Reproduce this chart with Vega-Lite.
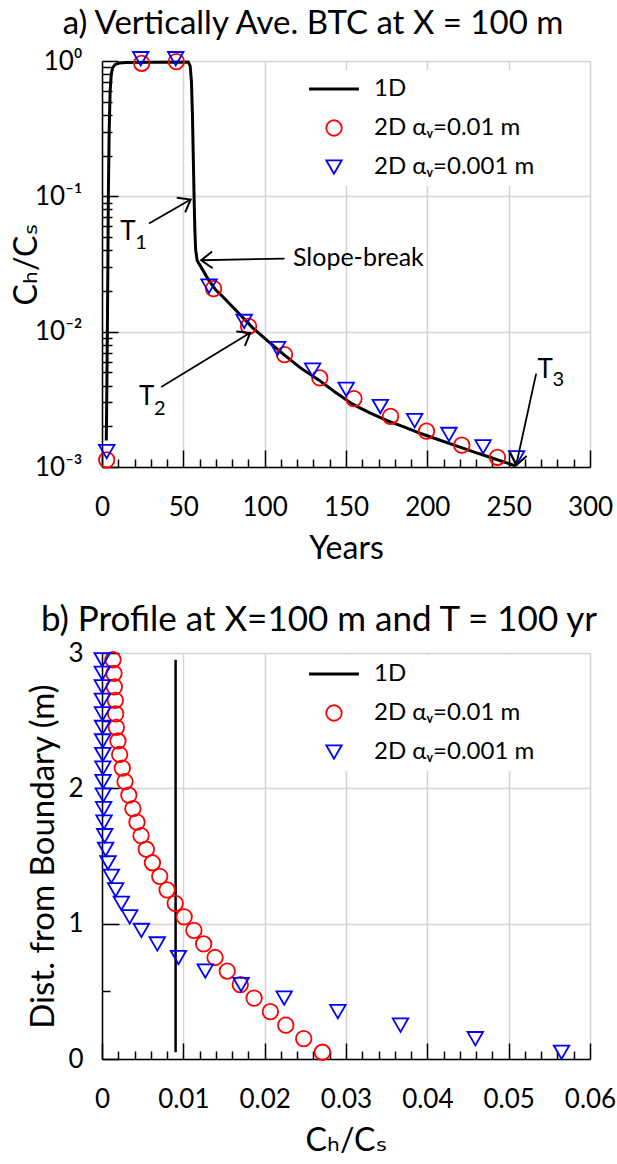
{
  "$schema": "https://vega.github.io/schema/vega-lite/v6.json",
  "background": "white",
  "padding": {"left": 10, "top": 8, "right": 0, "bottom": 0},
  "spacing": 39,
  "config": {
    "font": "Lato, DejaVu Sans, sans-serif",
    "view": {"stroke": null},
    "axis": {
      "labelFont": "Lato, DejaVu Sans, sans-serif", "labelFontSize": 26, "labelColor": "black",
      "titleFont": "Lato, DejaVu Sans, sans-serif", "titleFontSize": 32, "titleFontWeight": "normal", "titleColor": "black",
      "domainColor": "black", "domainWidth": 1.5, "tickColor": "black", "tickWidth": 1.5,
      "gridColor": "#d4d4d4", "gridWidth": 1.5, "labelOverlap": false, "labelFlush": false
    },
    "axisX": {"titlePadding": 13},
    "axisY": {"titleAngle": -90, "titleBaseline": "alphabetic", "titleAlign": "center"},
    "title": {"font": "Lato, DejaVu Sans, sans-serif", "fontSize": 33, "fontWeight": "normal", "color": "black", "anchor": "middle"},
    "legend": {
      "orient": "none", "legendX": 197, "legendY": 7, "fillColor": "white", "padding": 7,
      "labelFont": "Lato, DejaVu Sans, sans-serif", "labelFontSize": 24, "labelColor": "black", "labelLimit": 400,
      "symbolSize": 240, "rowPadding": 15, "symbolOffset": 16, "labelOffset": 28, "symbolStrokeWidth": 1.8
    }
  },
  "datasets": {
    "top1d": [
      {"s": "1D", "yr": 2.65, "c": 0.00157}, {"s": "1D", "yr": 3.0, "c": 0.004}, {"s": "1D", "yr": 3.3, "c": 0.01},
      {"s": "1D", "yr": 3.6, "c": 0.03}, {"s": "1D", "yr": 3.9, "c": 0.1}, {"s": "1D", "yr": 4.4, "c": 0.3},
      {"s": "1D", "yr": 5.0, "c": 0.6}, {"s": "1D", "yr": 5.7, "c": 0.8}, {"s": "1D", "yr": 6.5, "c": 0.89},
      {"s": "1D", "yr": 8, "c": 0.94}, {"s": "1D", "yr": 10.5, "c": 0.965}, {"s": "1D", "yr": 15, "c": 0.975},
      {"s": "1D", "yr": 30, "c": 0.98}, {"s": "1D", "yr": 53, "c": 0.985}, {"s": "1D", "yr": 54.2, "c": 0.92},
      {"s": "1D", "yr": 55, "c": 0.7}, {"s": "1D", "yr": 55.6, "c": 0.4}, {"s": "1D", "yr": 56.1, "c": 0.2},
      {"s": "1D", "yr": 56.6, "c": 0.1}, {"s": "1D", "yr": 57.1, "c": 0.055}, {"s": "1D", "yr": 57.6, "c": 0.04},
      {"s": "1D", "yr": 58.5, "c": 0.0335}, {"s": "1D", "yr": 62, "c": 0.0285}, {"s": "1D", "yr": 66, "c": 0.0236},
      {"s": "1D", "yr": 70, "c": 0.0203}, {"s": "1D", "yr": 74.3, "c": 0.0181}, {"s": "1D", "yr": 82, "c": 0.0145},
      {"s": "1D", "yr": 92.2, "c": 0.0108}, {"s": "1D", "yr": 102, "c": 0.0085}, {"s": "1D", "yr": 112.2, "c": 0.0067},
      {"s": "1D", "yr": 122, "c": 0.0054}, {"s": "1D", "yr": 133.2, "c": 0.0044}, {"s": "1D", "yr": 143, "c": 0.0036},
      {"s": "1D", "yr": 154.3, "c": 0.0029}, {"s": "1D", "yr": 165, "c": 0.0025}, {"s": "1D", "yr": 175.3, "c": 0.0022},
      {"s": "1D", "yr": 186, "c": 0.00197}, {"s": "1D", "yr": 196.4, "c": 0.00176}, {"s": "1D", "yr": 207, "c": 0.00159},
      {"s": "1D", "yr": 217.4, "c": 0.00144}, {"s": "1D", "yr": 228, "c": 0.0013}, {"s": "1D", "yr": 238.5, "c": 0.00118},
      {"s": "1D", "yr": 246, "c": 0.0011}, {"s": "1D", "yr": 254.3, "c": 0.00102}
    ],
    "top2d": [
      {"s": "2D αᵥ=0.01 m", "yr": 2.9, "c": 0.00113}, {"s": "2D αᵥ=0.01 m", "yr": 24.4, "c": 0.962},
      {"s": "2D αᵥ=0.01 m", "yr": 45.7, "c": 0.99}, {"s": "2D αᵥ=0.01 m", "yr": 68.6, "c": 0.0208},
      {"s": "2D αᵥ=0.01 m", "yr": 90.1, "c": 0.01096}, {"s": "2D αᵥ=0.01 m", "yr": 112.2, "c": 0.00677},
      {"s": "2D αᵥ=0.01 m", "yr": 133.9, "c": 0.00455}, {"s": "2D αᵥ=0.01 m", "yr": 154.9, "c": 0.0032},
      {"s": "2D αᵥ=0.01 m", "yr": 177.4, "c": 0.00237}, {"s": "2D αᵥ=0.01 m", "yr": 199.5, "c": 0.00184},
      {"s": "2D αᵥ=0.01 m", "yr": 221.2, "c": 0.00145}, {"s": "2D αᵥ=0.01 m", "yr": 243.1, "c": 0.00118},
      {"s": "2D αᵥ=0.001 m", "yr": 2.9, "c": 0.0013}, {"s": "2D αᵥ=0.001 m", "yr": 23.8, "c": 1.04},
      {"s": "2D αᵥ=0.001 m", "yr": 45.3, "c": 1.04}, {"s": "2D αᵥ=0.001 m", "yr": 65.8, "c": 0.0217},
      {"s": "2D αᵥ=0.001 m", "yr": 87.4, "c": 0.0119}, {"s": "2D αᵥ=0.001 m", "yr": 107.9, "c": 0.0075},
      {"s": "2D αᵥ=0.001 m", "yr": 129.5, "c": 0.0052}, {"s": "2D αᵥ=0.001 m", "yr": 150.1, "c": 0.00375},
      {"s": "2D αᵥ=0.001 m", "yr": 171.1, "c": 0.0028}, {"s": "2D αᵥ=0.001 m", "yr": 192.2, "c": 0.0022},
      {"s": "2D αᵥ=0.001 m", "yr": 213.3, "c": 0.00174}, {"s": "2D αᵥ=0.001 m", "yr": 234.3, "c": 0.00141},
      {"s": "2D αᵥ=0.001 m", "yr": 254.9, "c": 0.00117}
    ],
    "arrows": [
      {"id": "T1", "yr": 28.9, "c": 0.063, "yr2": 54.5, "c2": 0.0948},
      {"id": "SB", "yr": 112.2, "c": 0.0347, "yr2": 61, "c2": 0.0337},
      {"id": "T2", "yr": 36.4, "c": 0.0039, "yr2": 91.1, "c2": 0.0098},
      {"id": "T3", "yr": 266.9, "c": 0.0049, "yr2": 254.6, "c2": 0.00103}
    ],
    "heads": [
      {"id": "T1", "yr": 54.5, "c": 0.0948},
      {"id": "SB", "yr": 61, "c": 0.0337},
      {"id": "T2", "yr": 91.1, "c": 0.0098},
      {"id": "T3", "yr": 254.6, "c": 0.00103}
    ],
    "ann": [
      {"k": "main", "t": "T", "yr": 16.0, "c": 0.0543},
      {"k": "sub", "t": "1", "yr": 24.0, "c": 0.0455},
      {"k": "main", "t": "T", "yr": 27.5, "c": 0.00329},
      {"k": "sub", "t": "2", "yr": 35.5, "c": 0.0027},
      {"k": "main", "t": "T", "yr": 272.5, "c": 0.00522},
      {"k": "sub", "t": "3", "yr": 280.5, "c": 0.00437},
      {"k": "note", "t": "Slope-break", "yr": 117.4, "c": 0.0353}
    ],
    "bot1d": [
      {"s": "1D", "c": 0.00905, "d": 0.05}, {"s": "1D", "c": 0.00905, "d": 2.95}
    ],
    "bot2d": [
      {"s": "2D αᵥ=0.01 m", "d": 2.95, "c": 0.00135}, {"s": "2D αᵥ=0.01 m", "d": 2.85, "c": 0.00147},
      {"s": "2D αᵥ=0.01 m", "d": 2.75, "c": 0.00152}, {"s": "2D αᵥ=0.01 m", "d": 2.65, "c": 0.00164},
      {"s": "2D αᵥ=0.01 m", "d": 2.55, "c": 0.00168}, {"s": "2D αᵥ=0.01 m", "d": 2.45, "c": 0.00176},
      {"s": "2D αᵥ=0.01 m", "d": 2.35, "c": 0.00196}, {"s": "2D αᵥ=0.01 m", "d": 2.25, "c": 0.00217},
      {"s": "2D αᵥ=0.01 m", "d": 2.15, "c": 0.0025}, {"s": "2D αᵥ=0.01 m", "d": 2.05, "c": 0.00283},
      {"s": "2D αᵥ=0.01 m", "d": 1.95, "c": 0.0033}, {"s": "2D αᵥ=0.01 m", "d": 1.85, "c": 0.0038},
      {"s": "2D αᵥ=0.01 m", "d": 1.75, "c": 0.0043}, {"s": "2D αᵥ=0.01 m", "d": 1.65, "c": 0.0048},
      {"s": "2D αᵥ=0.01 m", "d": 1.55, "c": 0.00545}, {"s": "2D αᵥ=0.01 m", "d": 1.45, "c": 0.0062},
      {"s": "2D αᵥ=0.01 m", "d": 1.35, "c": 0.0071}, {"s": "2D αᵥ=0.01 m", "d": 1.25, "c": 0.008},
      {"s": "2D αᵥ=0.01 m", "d": 1.15, "c": 0.009}, {"s": "2D αᵥ=0.01 m", "d": 1.05, "c": 0.0101},
      {"s": "2D αᵥ=0.01 m", "d": 0.95, "c": 0.0113}, {"s": "2D αᵥ=0.01 m", "d": 0.85, "c": 0.0125},
      {"s": "2D αᵥ=0.01 m", "d": 0.75, "c": 0.0139}, {"s": "2D αᵥ=0.01 m", "d": 0.65, "c": 0.0154},
      {"s": "2D αᵥ=0.01 m", "d": 0.55, "c": 0.017}, {"s": "2D αᵥ=0.01 m", "d": 0.45, "c": 0.0187},
      {"s": "2D αᵥ=0.01 m", "d": 0.35, "c": 0.0207}, {"s": "2D αᵥ=0.01 m", "d": 0.25, "c": 0.0226},
      {"s": "2D αᵥ=0.01 m", "d": 0.15, "c": 0.0248}, {"s": "2D αᵥ=0.01 m", "d": 0.05, "c": 0.0271},
      {"s": "2D αᵥ=0.001 m", "d": 2.95, "c": 0.00003}, {"s": "2D αᵥ=0.001 m", "d": 2.85, "c": 0.00004},
      {"s": "2D αᵥ=0.001 m", "d": 2.75, "c": 0.00004}, {"s": "2D αᵥ=0.001 m", "d": 2.65, "c": 0.00005},
      {"s": "2D αᵥ=0.001 m", "d": 2.55, "c": 0.00006}, {"s": "2D αᵥ=0.001 m", "d": 2.45, "c": 0.00007},
      {"s": "2D αᵥ=0.001 m", "d": 2.35, "c": 0.00008}, {"s": "2D αᵥ=0.001 m", "d": 2.25, "c": 0.0001},
      {"s": "2D αᵥ=0.001 m", "d": 2.15, "c": 0.00011}, {"s": "2D αᵥ=0.001 m", "d": 2.05, "c": 0.00013},
      {"s": "2D αᵥ=0.001 m", "d": 1.95, "c": 0.00016}, {"s": "2D αᵥ=0.001 m", "d": 1.85, "c": 0.0002},
      {"s": "2D αᵥ=0.001 m", "d": 1.75, "c": 0.00025}, {"s": "2D αᵥ=0.001 m", "d": 1.65, "c": 0.00033},
      {"s": "2D αᵥ=0.001 m", "d": 1.55, "c": 0.00045}, {"s": "2D αᵥ=0.001 m", "d": 1.45, "c": 0.00074},
      {"s": "2D αᵥ=0.001 m", "d": 1.35, "c": 0.00115}, {"s": "2D αᵥ=0.001 m", "d": 1.25, "c": 0.00168},
      {"s": "2D αᵥ=0.001 m", "d": 1.15, "c": 0.00238}, {"s": "2D αᵥ=0.001 m", "d": 1.05, "c": 0.0034},
      {"s": "2D αᵥ=0.001 m", "d": 0.95, "c": 0.00484}, {"s": "2D αᵥ=0.001 m", "d": 0.85, "c": 0.0068},
      {"s": "2D αᵥ=0.001 m", "d": 0.75, "c": 0.0094}, {"s": "2D αᵥ=0.001 m", "d": 0.65, "c": 0.0127},
      {"s": "2D αᵥ=0.001 m", "d": 0.55, "c": 0.0171}, {"s": "2D αᵥ=0.001 m", "d": 0.45, "c": 0.0224},
      {"s": "2D αᵥ=0.001 m", "d": 0.35, "c": 0.029}, {"s": "2D αᵥ=0.001 m", "d": 0.25, "c": 0.0367},
      {"s": "2D αᵥ=0.001 m", "d": 0.15, "c": 0.0459}, {"s": "2D αᵥ=0.001 m", "d": 0.05, "c": 0.0565}
    ]
  },
  "resolve": {"scale": {"color": "independent", "shape": "independent"}},
  "vconcat": [
    {
      "width": 488, "height": 406,
      "title": {"text": "a) Vertically Ave. BTC at X = 100 m", "dx": -33, "offset": 7},
      "resolve": {"axis": {"x": "independent", "y": "independent"}},
      "encoding": {
        "x": {"field": "yr", "type": "quantitative", "title": "Years", "scale": {"domain": [0, 300], "nice": false, "zero": false}, "axis": null},
        "y": {"field": "c", "type": "quantitative", "title": "Cₕ/Cₛ", "scale": {"type": "log", "domain": [0.001, 1], "nice": false}, "axis": null}
      },
      "layer": [
        {
          "data": {"name": "top1d"},
          "mark": {"type": "line", "strokeWidth": 3},
          "encoding": {
            "x": {"field": "yr", "type": "quantitative", "title": "Years", "scale": {"domain": [0, 300], "nice": false, "zero": false},
                  "axis": {"orient": "bottom", "values": [0, 50, 100, 150, 200, 250, 300], "tickSize": -17, "labelPadding": 44, "grid": true}},
            "y": {"field": "c", "type": "quantitative", "title": "Cₕ/Cₛ", "scale": {"type": "log", "domain": [0.001, 1], "nice": false},
                  "axis": {"orient": "left", "values": [0.001, 0.01, 0.1, 1], "tickSize": -16, "labelPadding": 36, "grid": true, "titleX": -66,
                           "labelExpr": "datum.value === 1 ? '10⁰' : datum.value === 0.1 ? '10⁻¹' : datum.value === 0.01 ? '10⁻²' : '10⁻³'"}},
            "color": {"field": "s", "type": "nominal", "title": null, "legend": {"legendY": 9}, "scale": {"domain": ["1D", "2D αᵥ=0.01 m", "2D αᵥ=0.001 m"], "range": ["black", "#ff0000", "#0000ff"]}}
          }
        },
        {
          "data": {"name": "top2d"},
          "mark": {"type": "point", "filled": false, "size": 240, "strokeWidth": 1.8, "opacity": 1},
          "encoding": {
            "color": {"field": "s", "type": "nominal", "title": null, "legend": {"legendY": 9}, "scale": {"domain": ["1D", "2D αᵥ=0.01 m", "2D αᵥ=0.001 m"], "range": ["black", "#ff0000", "#0000ff"]}},
            "shape": {"field": "s", "type": "nominal", "title": null, "legend": {"legendY": 9}, "scale": {"domain": ["1D", "2D αᵥ=0.01 m", "2D αᵥ=0.001 m"], "range": ["M-3.1,-0.08L3.1,-0.08L3.1,0.08L-3.1,0.08Z", "circle", "triangle-down"]}}
          }
        },
        {
          "data": {"name": "arrows"},
          "mark": {"type": "rule", "color": "black", "strokeWidth": 1.8},
          "encoding": {"x2": {"field": "yr2"}, "y2": {"field": "c2"}}
        },
        {
          "data": {"name": "heads"},
          "transform": [{"filter": "datum.id === 'T1'"}],
          "mark": {"type": "point", "shape": "M-1,-0.75L0,0L-1,0.75", "size": 500, "filled": false, "stroke": "black", "strokeWidth": 2, "angle": 330, "opacity": 1},
          "encoding": {}
        },
        {
          "data": {"name": "heads"},
          "transform": [{"filter": "datum.id === 'SB'"}],
          "mark": {"type": "point", "shape": "M-1,-0.75L0,0L-1,0.75", "size": 500, "filled": false, "stroke": "black", "strokeWidth": 2, "angle": 178, "opacity": 1},
          "encoding": {}
        },
        {
          "data": {"name": "heads"},
          "transform": [{"filter": "datum.id === 'T2'"}],
          "mark": {"type": "point", "shape": "M-1,-0.75L0,0L-1,0.75", "size": 500, "filled": false, "stroke": "black", "strokeWidth": 2, "angle": 329, "opacity": 1},
          "encoding": {}
        },
        {
          "data": {"name": "heads"},
          "transform": [{"filter": "datum.id === 'T3'"}],
          "mark": {"type": "point", "shape": "M-1,-0.75L0,0L-1,0.75", "size": 500, "filled": false, "stroke": "black", "strokeWidth": 2, "angle": 102, "opacity": 1},
          "encoding": {}
        },
        {
          "data": {"name": "ann"},
          "transform": [{"filter": "datum.k === 'main'"}],
          "mark": {"type": "text", "fontSize": 26, "font": "Lato, DejaVu Sans, sans-serif", "color": "black", "align": "center", "baseline": "middle"},
          "encoding": {"text": {"field": "t"}}
        },
        {
          "data": {"name": "ann"},
          "transform": [{"filter": "datum.k === 'sub'"}],
          "mark": {"type": "text", "fontSize": 20, "font": "Lato, DejaVu Sans, sans-serif", "color": "black", "align": "center", "baseline": "middle"},
          "encoding": {"text": {"field": "t"}}
        },
        {
          "data": {"name": "ann"},
          "transform": [{"filter": "datum.k === 'note'"}],
          "mark": {"type": "text", "fontSize": 25, "font": "Lato, DejaVu Sans, sans-serif", "color": "black", "align": "left", "baseline": "middle"},
          "encoding": {
            "x": {"field": "yr", "type": "quantitative", "title": null, "scale": {"domain": [0, 300], "nice": false, "zero": false},
                  "axis": {"orient": "bottom", "values": [10,20,30,40,60,70,80,90,110,120,130,140,160,170,180,190,210,220,230,240,260,270,280,290], "tickSize": -8, "labels": false, "domain": false, "grid": false, "title": null}},
            "y": {"field": "c", "type": "quantitative", "title": null, "scale": {"type": "log", "domain": [0.001, 1], "nice": false},
                  "axis": {"orient": "left", "values": [0.002,0.003,0.004,0.005,0.006,0.007,0.008,0.009,0.02,0.03,0.04,0.05,0.06,0.07,0.08,0.09,0.2,0.3,0.4,0.5,0.6,0.7,0.8,0.9], "tickSize": -10, "labels": false, "domain": false, "grid": false, "title": null}},
            "text": {"field": "t"}
          }
        }
      ]
    },
    {
      "width": 488, "height": 406,
      "title": {"text": "b) Profile at X=100 m and T = 100 yr", "dx": -27, "offset": 2, "fontSize": 35},
      "resolve": {"axis": {"x": "independent", "y": "independent"}},
      "encoding": {
        "x": {"field": "c", "type": "quantitative", "title": "Cₕ/Cₛ", "scale": {"domain": [0, 0.06], "nice": false, "zero": false}, "axis": null},
        "y": {"field": "d", "type": "quantitative", "title": "Dist. from Boundary (m)", "scale": {"domain": [0, 3], "nice": false}, "axis": null}
      },
      "layer": [
        {
          "data": {"name": "bot1d"},
          "mark": {"type": "line", "strokeWidth": 2.5},
          "encoding": {
            "x": {"field": "c", "type": "quantitative", "title": "Cₕ/Cₛ", "scale": {"domain": [0, 0.06], "nice": false, "zero": false},
                  "axis": {"orient": "bottom", "values": [0, 0.01, 0.02, 0.03, 0.04, 0.05, 0.06], "tickSize": -16, "labelPadding": 43, "grid": true,
                           "labelExpr": "format(datum.value, '~g')"}},
            "y": {"field": "d", "type": "quantitative", "title": "Dist. from Boundary (m)", "scale": {"domain": [0, 3], "nice": false},
                  "axis": {"orient": "left", "values": [0, 1, 2, 3], "tickSize": -17, "labelPadding": 36, "grid": true, "titleX": -49, "titleFontSize": 33, "format": "d"}},
            "order": {"field": "d", "type": "quantitative"},
            "color": {"field": "s", "type": "nominal", "title": null, "legend": {"legendY": 2}, "scale": {"domain": ["1D", "2D αᵥ=0.01 m", "2D αᵥ=0.001 m"], "range": ["black", "#ff0000", "#0000ff"]}}
          }
        },
        {
          "data": {"name": "bot2d"},
          "mark": {"type": "point", "filled": false, "size": 240, "strokeWidth": 1.8, "opacity": 1},
          "encoding": {
            "x": {"field": "c", "type": "quantitative", "title": null, "scale": {"domain": [0, 0.06], "nice": false, "zero": false},
                  "axis": {"orient": "bottom", "values": [0.002,0.004,0.006,0.008,0.012,0.014,0.016,0.018,0.022,0.024,0.026,0.028,0.032,0.034,0.036,0.038,0.042,0.044,0.046,0.048,0.052,0.054,0.056,0.058], "tickSize": -8, "labels": false, "domain": false, "grid": false, "title": null}},
            "y": {"field": "d", "type": "quantitative", "title": null, "scale": {"domain": [0, 3], "nice": false},
                  "axis": {"orient": "left", "values": [0.5, 1.5, 2.5], "tickSize": -8, "labels": false, "domain": false, "grid": false, "title": null}},
            "color": {"field": "s", "type": "nominal", "title": null, "legend": {"legendY": 2}, "scale": {"domain": ["1D", "2D αᵥ=0.01 m", "2D αᵥ=0.001 m"], "range": ["black", "#ff0000", "#0000ff"]}},
            "shape": {"field": "s", "type": "nominal", "title": null, "legend": {"legendY": 2}, "scale": {"domain": ["1D", "2D αᵥ=0.01 m", "2D αᵥ=0.001 m"], "range": ["M-3.1,-0.08L3.1,-0.08L3.1,0.08L-3.1,0.08Z", "circle", "triangle-down"]}}
          }
        }
      ]
    }
  ]
}
